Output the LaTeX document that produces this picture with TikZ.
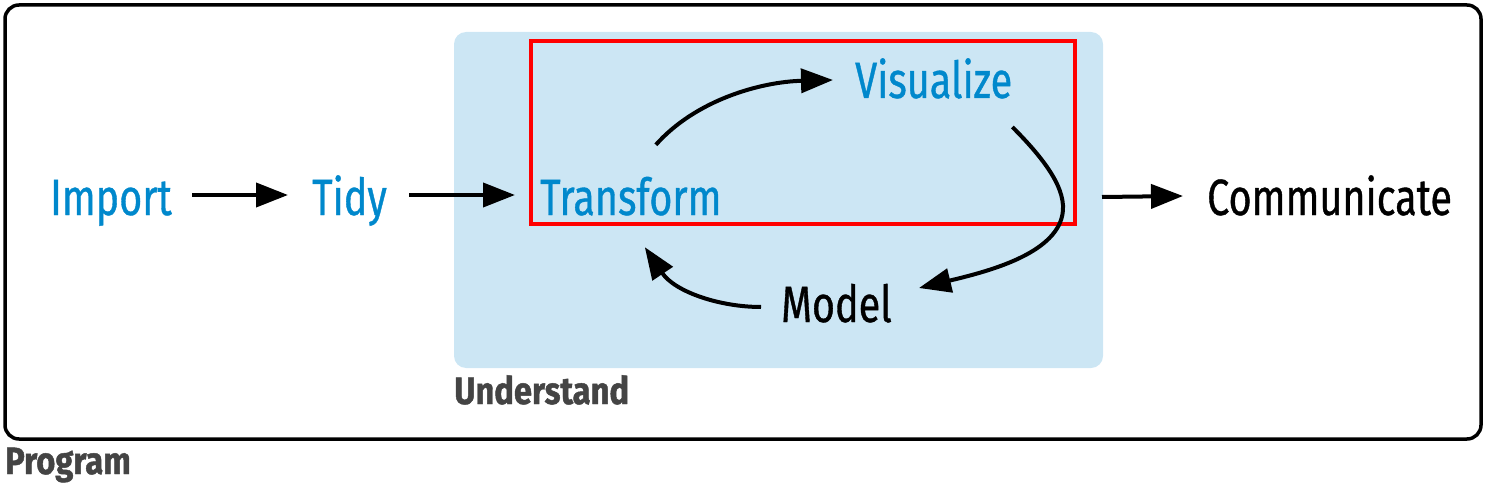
\documentclass[tikz,border=0pt]{standalone}
\usepackage{fontspec}
\setmainfont{Fira Sans}[FakeStretch=0.775,FakeBold=0.7]
\newfontfamily\lblfont{Fira Sans}[FakeStretch=0.86,UprightFont=*,UprightFeatures={FakeBold=0},BoldFeatures={FakeBold=1.2}]
\usetikzlibrary{arrows.meta,calc}
\definecolor{txtblue}{RGB}{0,136,204}
\definecolor{boxblue}{RGB}{204,230,244}
\definecolor{lblgray}{RGB}{68,68,68}
\begin{document}
\begin{tikzpicture}[x=1pt,y=-1pt,
  word/.style={inner sep=0pt,text height=40pt,text depth=0pt,anchor=base west,font=\fontsize{51}{51}\selectfont},
  blueword/.style={word,text=txtblue},
  blackword/.style={word,text=black},
  grouplbl/.style={inner sep=0pt,anchor=base west,text=lblgray,font=\lblfont\fontsize{38}{38}\selectfont\bfseries},
  arr/.style={line width=4pt,-{Triangle[length=32pt,width=24pt]}},
  ]
\useasboundingbox (0,0) rectangle (1486,484);
\draw[line width=3.5pt,rounded corners=14pt] (5,5) rectangle (1481,439);
\fill[boxblue,rounded corners=12pt] (454,32) rectangle (1103,368);
\draw[red,line width=4pt] (531,41) rectangle (1075,224);

\node[grouplbl] (program) at (5,474) {Program};
\node[grouplbl] (understand) at (454,404) {Understand};

\node[blueword] (import) at (50,215) {Import};
\node[blueword] (tidy) at (312,215) {Tidy};
\node[blueword] (transform) at (540,215) {Transform};
\node[blueword] (visualize) at (855,98) {Visualize};
\node[blackword] (model) at (781,322) {Model};
\node[blackword] (communicate) at (1207,215) {Communicate};

\draw[arr] ($(import.east)+(20,0)$) -- ($(tidy.west)+(-24,0)$);
\draw[arr] ($(tidy.east)+(22,0)$) -- ($(transform.west)+(-25,0)$);
\draw[arr] ($(communicate.west)+(-105,2)$) -- ($(communicate.west)+(-24,1)$);

\draw[arr] ($(transform.north)+(25,-30)$) .. controls ($(transform.north)+(65,-75)$) and ($(transform.north)+(130,-93)$) .. ($(visualize.west)+(-22,2)$);
\draw[arr] ($(visualize.east)+(0,49)$) .. controls ($(visualize.east)+(33,82)$) and ($(visualize.east)+(55,112)$) .. ($(visualize.east)+(50,137)$)
   .. controls ($(visualize.east)+(42,177)$) and ($(visualize.east)+(-27,194)$) .. ($(model.east)+(27,-14)$);
\draw[arr] ($(model.west)+(-20,5)$) .. controls ($(model.west)+(-61,5)$) and ($(model.west)+(-106,-10)$) .. ($(transform.south)+(14,32)$);
\end{tikzpicture}
\end{document}
